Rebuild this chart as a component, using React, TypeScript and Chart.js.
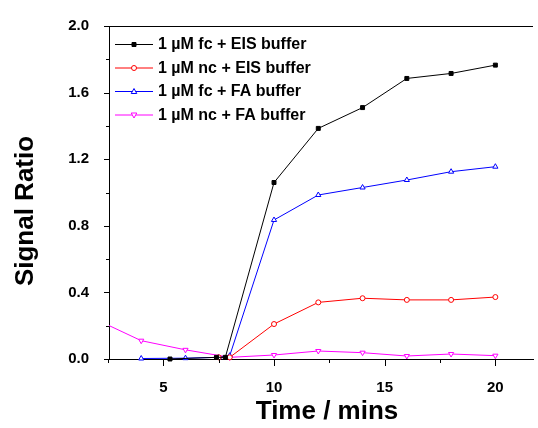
import React, { useEffect, useRef } from 'react';
import { Chart, registerables } from 'chart.js';

Chart.register(...registerables);

const seriesLabels = ['1 µM fc + EIS buffer', '1 µM nc + EIS buffer', '1 µM fc + FA buffer', '1 µM nc + FA buffer'];

const fcEisX = [5.3, 7.4, 7.8, 10, 12, 14, 16, 18, 20];
const fcEisY = [0.0, 0.01, 0.01, 1.06, 1.385, 1.51, 1.685, 1.715, 1.765];

const ncEisX = [7.5, 8, 10, 12, 14, 16, 18, 20];
const ncEisY = [0.01, 0.01, 0.21, 0.34, 0.365, 0.355, 0.355, 0.372];

const fcFaX = [4, 6, 7.5, 8, 10, 12, 14, 16, 18, 20];
const fcFaY = [0.003, 0.005, 0.01, 0.02, 0.835, 0.985, 1.03, 1.075, 1.125, 1.155];

const ncFaX = [2, 4, 6, 8, 10, 12, 14, 16, 18, 20];
const ncFaY = [0.235, 0.11, 0.055, 0.01, 0.024, 0.048, 0.038, 0.018, 0.03, 0.02];

const xTickValues = [5, 10, 15, 20];
const yTickValues = [0, 0.4, 0.8, 1.2, 1.6, 2.0];

const xTitle = 'Time / mins';
const yTitle = 'Signal Ratio';

const FONT = '"Liberation Sans", Arial, sans-serif';

const colors = ['#000000', '#ff0000', '#0000ff', '#ff00ff'];
const styles: any[] = ['rect', 'circle', 'triangle', 'triangle'];
const rotations = [0, 0, 0, 180];
const fills = ['#000000', '#ffffff', '#ffffff', '#ffffff'];

function pts(xs: number[], ys: number[]) {
  return xs.map((x, i) => ({ x, y: ys[i] }));
}

function drawMarker(ctx: CanvasRenderingContext2D, kind: number, x: number, y: number) {
  ctx.save();
  ctx.strokeStyle = colors[kind];
  ctx.fillStyle = fills[kind];
  ctx.lineWidth = 1;
  ctx.beginPath();
  if (kind === 0) {
    ctx.rect(x - 2, y - 2, 4, 4);
  } else if (kind === 1) {
    ctx.arc(x, y, 2.5, 0, Math.PI * 2);
  } else if (kind === 2) {
    ctx.moveTo(x, y - 3);
    ctx.lineTo(x + 2.8, y + 2);
    ctx.lineTo(x - 2.8, y + 2);
    ctx.closePath();
  } else {
    ctx.moveTo(x, y + 3);
    ctx.lineTo(x + 2.8, y - 2);
    ctx.lineTo(x - 2.8, y - 2);
    ctx.closePath();
  }
  ctx.fill();
  ctx.stroke();
  ctx.restore();
}

const decorPlugin = {
  id: 'decor',
  afterDraw(chart: any) {
    const ctx: CanvasRenderingContext2D = chart.ctx;
    const { left, right, top, bottom } = chart.chartArea;
    const xs = chart.scales.x;
    const ys = chart.scales.y;
    ctx.save();
    ctx.strokeStyle = '#000';
    ctx.lineWidth = 1;
    // top frame line
    ctx.beginPath();
    ctx.moveTo(left, top + 0.5);
    ctx.lineTo(right, top + 0.5);
    ctx.stroke();
    // y ticks (major + minor)
    for (let i = 0; i <= 10; i++) {
      const v = i * 0.2;
      const py = Math.round(ys.getPixelForValue(v)) + 0.5;
      const len = i % 2 === 0 ? 5 : 3;
      ctx.beginPath();
      ctx.moveTo(left - len, py);
      ctx.lineTo(left, py);
      ctx.stroke();
    }
    // x ticks (major + minor)
    for (let i = 1; i <= 8; i++) {
      const v = i * 2.5;
      const px = Math.round(xs.getPixelForValue(v)) + 0.5;
      const len = i % 2 === 0 ? 7 : 4;
      ctx.beginPath();
      ctx.moveTo(px, bottom);
      ctx.lineTo(px, bottom + len);
      ctx.stroke();
    }
    // axis titles
    ctx.fillStyle = '#000';
    ctx.font = `bold 26px ${FONT}`;
    ctx.textAlign = 'center';
    ctx.textBaseline = 'middle';
    ctx.fillText(xTitle, 327, 412);
    ctx.save();
    ctx.translate(26, 211);
    ctx.rotate(-Math.PI / 2);
    ctx.fillText(yTitle, 0, 0);
    ctx.restore();
    // legend
    const rowY = [44, 67.5, 91, 114.5];
    ctx.font = `bold 16px ${FONT}`;
    ctx.textAlign = 'left';
    for (let k = 0; k < 4; k++) {
      const y = rowY[k];
      ctx.strokeStyle = colors[k];
      ctx.beginPath();
      ctx.moveTo(115, y + 0.5);
      ctx.lineTo(153, y + 0.5);
      ctx.stroke();
      drawMarker(ctx, k, 134, y + 0.5);
      ctx.fillStyle = '#000';
      ctx.fillText(seriesLabels[k], 158, y + 1);
    }
    ctx.restore();
  },
};

export default function App() {
  const ref = useRef<HTMLCanvasElement | null>(null);
  useEffect(() => {
    document.body.style.margin = '0';
    const canvas = ref.current!;
    const all = [
      pts(fcEisX, fcEisY),
      pts(ncEisX, ncEisY),
      pts(fcFaX, fcFaY),
      pts(ncFaX, ncFaY),
    ];
    const chart = new Chart(canvas, {
      type: 'line',
      data: {
        datasets: all.map((d, k) => ({
          label: seriesLabels[k],
          data: d,
          borderColor: colors[k],
          backgroundColor: fills[k],
          pointBorderColor: colors[k],
          pointBackgroundColor: fills[k],
          pointStyle: styles[k],
          pointRotation: rotations[k],
          pointRadius: k === 0 ? 2.8 : k === 1 ? 2.5 : 3,
          pointBorderWidth: 1,
          borderWidth: 1,
          tension: 0,
          fill: false,
          clip: { left: 0, top: false, right: false, bottom: false } as any,
        })),
      },
      options: {
        responsive: false,
        animation: false,
        devicePixelRatio: 1,
        layout: { padding: { top: 26, left: 0, right: 0, bottom: 0 } },
        plugins: { legend: { display: false }, tooltip: { enabled: false }, title: { display: false } },
        scales: {
          x: {
            type: 'linear',
            min: 2.545,
            max: 21.7,
            grid: { display: false },
            border: { display: true, color: '#000', width: 1 },
            afterBuildTicks: (s: any) => {
              s.ticks = xTickValues.map((v) => ({ value: v }));
            },
            afterFit: (s: any) => {
              s.height = 69;
            },
            ticks: {
              color: '#000',
              padding: 12,
              maxRotation: 0,
              autoSkip: false,
              font: { family: FONT, size: 15, weight: 'bold' },
              callback: (v: any) => String(v),
            },
          },
          y: {
            type: 'linear',
            min: 0,
            max: 2,
            grid: { display: false },
            border: { display: true, color: '#000', width: 1 },
            afterBuildTicks: (s: any) => {
              s.ticks = yTickValues.map((v) => ({ value: v }));
            },
            afterFit: (s: any) => {
              s.width = 109;
            },
            ticks: {
              color: '#000',
              padding: 12,
              autoSkip: false,
              font: { family: FONT, size: 15, weight: 'bold' },
              callback: (v: any) => Number(v).toFixed(1),
            },
          },
        },
      },
      plugins: [decorPlugin],
    } as any);
    return () => chart.destroy();
  }, []);
  return (
    <div style={{ width: 538, height: 428 }}>
      <canvas ref={ref} width={538} height={428} style={{ display: 'block' }} />
    </div>
  );
}
